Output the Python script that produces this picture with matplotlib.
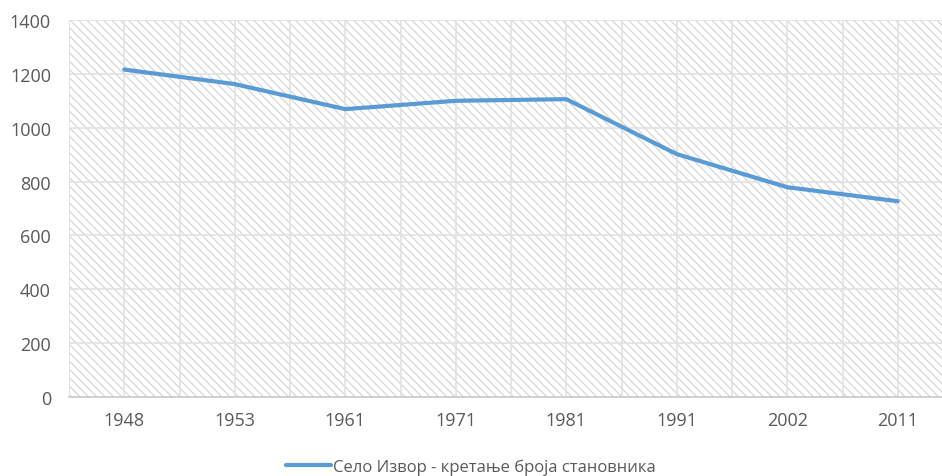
import matplotlib.pyplot as plt
from matplotlib.patches import Rectangle

plt.rcParams['font.family'] = ['Open Sans', 'DejaVu Sans']
plt.rcParams['hatch.linewidth'] = 0.8

# Подаци
godine = ["1948", "1953", "1961", "1971", "1981", "1991", "2002", "2011"]
stanovnici = [1216, 1162, 1069, 1100, 1106, 902, 779, 727]
y_ticks = [0, 200, 400, 600, 800, 1000, 1200, 1400]

fig = plt.figure(figsize=(9.42, 4.77), dpi=100)
ax = fig.add_axes([69 / 942, 79 / 477, 884 / 942, 377 / 477])

x = list(range(len(godine)))

# шрафура у позадини
ax.add_patch(Rectangle((0, 0), 1, 1, transform=ax.transAxes, fill=False,
                       hatch='\\\\\\\\', edgecolor='#d3d3d3', lw=0, zorder=0))

# мрежа
for xv in [i / 2 - 0.5 for i in range(2 * len(godine) + 1)]:
    ax.axvline(xv, color='#e2e2e2', lw=1.2, zorder=1)
for yv in y_ticks[1:]:
    ax.axhline(yv, color='#e2e2e2', lw=1.2, zorder=1)

ax.plot(x, stanovnici, color='#5b9bd5', lw=3, solid_capstyle='round',
        label='Село Извор - кретање броја становника', zorder=3)

ax.set_xlim(-0.5, len(godine) - 0.5)
ax.set_ylim(0, 1400)
ax.set_xticks(x)
ax.set_xticklabels(godine)
ax.set_yticks(y_ticks)

for s in ['top', 'right', 'left']:
    ax.spines[s].set_visible(False)
ax.spines['bottom'].set_color('#c8c8c8')
ax.spines['bottom'].set_linewidth(1.2)
ax.spines['bottom'].set_zorder(2)

ax.tick_params(axis='both', length=0, labelsize=13, colors='#595959')
ax.tick_params(axis='y', pad=13)
ax.tick_params(axis='x', pad=10)

fig.legend(loc='center', bbox_to_anchor=(0.5, 9 / 477), frameon=False,
           fontsize=12, handlelength=2.7, handletextpad=0.15,
           labelcolor='#595959')

plt.savefig("out.png", dpi=100)
